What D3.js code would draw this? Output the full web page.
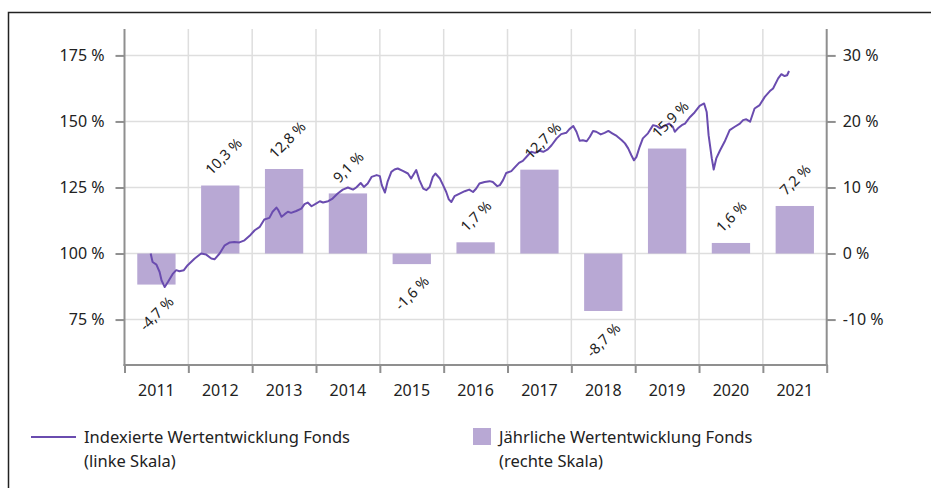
<!DOCTYPE html>
<html><head><meta charset="utf-8">
<script src="https://cdn.jsdelivr.net/npm/d3@7/dist/d3.min.js"></script>
<style>
html,body{margin:0;padding:0;background:#fff;}
svg{display:block;font-family:"Noto Sans",sans-serif;}
</style></head>
<body><svg id="chart" width="931" height="488"></svg>
<script>
// ---- data ----
const years = [2011,2012,2013,2014,2015,2016,2017,2018,2019,2020,2021];
const annualReturns = [-4.7,10.3,12.8,9.1,-1.6,1.7,12.7,-8.7,15.9,1.6,7.2];
const leftTicks = [75,100,125,150,175];
const rightTicks = [-10,0,10,20,30];
const indexDates = [2011.41,2011.44,2011.50,2011.55,2011.58,2011.63,2011.68,2011.76,2011.81,2011.86,2011.93,2011.99,
2012.10,2012.20,2012.28,2012.36,2012.41,2012.49,2012.57,2012.65,2012.72,2012.80,2012.88,2012.96,
2013.04,2013.12,2013.19,2013.27,2013.32,2013.38,2013.41,2013.46,2013.51,2013.56,2013.61,2013.69,2013.77,2013.82,2013.87,2013.93,
2014.00,2014.06,2014.11,2014.19,2014.26,2014.34,2014.42,2014.50,2014.58,2014.63,2014.70,2014.75,2014.81,2014.87,2014.95,
2015.00,2015.03,2015.08,2015.12,2015.18,2015.23,2015.28,2015.36,2015.44,2015.49,2015.57,2015.62,2015.68,2015.73,2015.78,2015.83,2015.87,2015.94,2015.99,
2016.04,2016.08,2016.12,2016.17,2016.25,2016.33,2016.40,2016.46,2016.51,2016.56,2016.64,2016.72,2016.77,2016.84,2016.88,2016.93,2016.98,
2017.06,2017.11,2017.18,2017.24,2017.32,2017.37,2017.43,2017.50,2017.56,2017.63,2017.69,2017.77,2017.84,2017.92,2017.97,
2018.03,2018.08,2018.13,2018.18,2018.24,2018.29,2018.34,2018.39,2018.46,2018.52,2018.58,2018.64,2018.71,2018.79,2018.84,2018.89,2018.94,2018.98,
2019.02,2019.07,2019.12,2019.20,2019.28,2019.33,2019.39,2019.46,2019.53,2019.59,2019.62,2019.67,2019.73,2019.78,2019.86,2019.93,
2020.01,2020.08,2020.12,2020.15,2020.20,2020.23,2020.27,2020.33,2020.40,2020.48,2020.56,2020.64,2020.69,2020.74,2020.80,2020.87,2020.95,
2021.03,2021.11,2021.16,2021.24,2021.29,2021.34,2021.38,2021.41];
const indexValues = [100.0,96.8,95.8,93.0,89.9,87.3,89.2,92.4,93.7,93.3,93.7,95.6,
98.1,100.0,99.6,98.1,97.8,100.0,103.1,104.2,104.4,104.2,105.0,106.7,
108.8,110.1,112.9,113.5,115.8,117.4,116.4,113.9,114.9,115.8,115.4,116.1,117.0,118.7,119.3,117.9,
118.9,119.8,119.3,119.8,120.8,122.7,124.2,125.0,124.2,125.0,126.7,125.2,126.5,129.0,129.7,
129.3,125.9,123.1,127.1,130.9,131.8,132.2,131.3,130.3,128.4,131.6,127.8,124.6,124.0,125.2,129.0,130.3,128.4,125.9,
123.3,120.5,119.5,121.7,122.7,123.6,124.2,123.3,124.6,126.5,127.1,127.4,127.1,125.5,125.9,127.8,130.5,
131.2,132.5,134.3,135.1,137.2,138.5,138.1,138.9,138.5,139.4,141.0,143.6,145.2,145.7,147.1,
148.3,146.1,142.7,142.9,142.5,144.2,146.4,146.1,145.1,145.7,146.4,145.5,144.5,142.9,141.7,139.8,137.2,135.3,
136.6,140.4,143.6,145.5,148.6,148.3,147.4,148.3,149.2,148.0,146.1,147.4,148.6,149.2,151.7,153.4,
155.9,156.8,153.6,144.8,136.0,131.8,136.0,139.1,142.3,146.7,148.0,149.2,150.5,150.8,149.9,154.9,156.2,
159.3,161.5,162.5,166.3,167.9,167.2,167.5,169.1];
const legendLineLabel = ["Indexierte Wertentwicklung Fonds","(linke Skala)"];
const legendBarLabel = ["Jährliche Wertentwicklung Fonds","(rechte Skala)"];

// ---- layout ----
const plotLeft = 124.5, plotRight = 826.7, plotTop = 29, plotBottom = 365;
const lineColor = "#6a4caf", barColor = "#b8a8d4", axisColor = "#8f8f8f", gridColor = "#dedede", textColor = "#222";

const svg = d3.select("#chart");
const de = d3.formatLocale({decimal:",",thousands:".",grouping:[3],currency:["","€"],minus:"-"});
const fmt1 = de.format(".1f");

const x = d3.scaleLinear().domain([2011,2022]).range([plotLeft, plotRight]);
const xb = d3.scaleBand().domain(years).range([plotLeft, plotRight]).paddingInner(0.4).paddingOuter(0.2);
const yL = d3.scaleLinear().domain([57.8,185]).range([plotBottom, plotTop]);
const yR = d3.scaleLinear().domain([(57.8-100)/2.5,(185-100)/2.5]).range([plotBottom, plotTop]);

// border
svg.append("rect").attr("x",8.5).attr("y",12.5).attr("width",960).attr("height",520)
  .attr("fill","none").attr("stroke","#222").attr("stroke-width",1.5);

// grid
const g = svg.append("g");
g.selectAll(".hg").data(leftTicks).join("line")
  .attr("x1",plotLeft).attr("x2",plotRight).attr("y1",d=>yL(d)).attr("y2",d=>yL(d))
  .attr("stroke",gridColor).attr("stroke-width",1.5);
const boundaries = d3.range(2012,2022);
g.selectAll(".vg").data(boundaries).join("line")
  .attr("x1",d=>x(d)).attr("x2",d=>x(d)).attr("y1",plotTop).attr("y2",plotBottom)
  .attr("stroke",gridColor).attr("stroke-width",1.5);

// bars
svg.append("g").selectAll("rect").data(years).join("rect")
  .attr("x",d=>xb(d)).attr("width",xb.bandwidth())
  .attr("y",(d,i)=>yR(Math.max(0,annualReturns[i])))
  .attr("height",(d,i)=>Math.abs(yR(annualReturns[i])-yR(0)))
  .attr("fill",barColor);

// line
const pts = indexDates.map((d,i)=>[d,indexValues[i]]);
svg.append("path").datum(pts)
  .attr("d",d3.line().x(d=>x(d[0])).y(d=>yL(d[1])))
  .attr("fill","none").attr("stroke",lineColor).attr("stroke-width",2).attr("stroke-linejoin","round");

// bar labels
svg.append("g").selectAll("text").data(years).join("text")
  .each(function(d,i){
    const v = annualReturns[i];
    const cx = xb(d)+xb.bandwidth()/2;
    const t = d3.select(this);
    let px, py;
    if (v>=0){ px = cx-13; py = yR(v)-14; t.attr("text-anchor","start"); }
    else { px = cx+14; py = yR(v)+14; t.attr("text-anchor","end"); }
    t.attr("transform",`translate(${px},${py}) rotate(-45)`);
  })
  .attr("dominant-baseline","central")
  .attr("font-size",14.5).attr("fill",textColor)
  .text((d,i)=>fmt1(annualReturns[i])+" %");

// axes
const axG = svg.append("g").attr("stroke",axisColor).attr("stroke-width",2);
axG.append("line").attr("x1",plotLeft).attr("x2",plotLeft).attr("y1",plotTop).attr("y2",plotBottom+1);
axG.append("line").attr("x1",plotRight).attr("x2",plotRight).attr("y1",plotTop).attr("y2",plotBottom+1);
axG.append("line").attr("x1",plotLeft-1).attr("x2",plotRight+1).attr("y1",plotBottom).attr("y2",plotBottom);

const leftAxis = svg.append("g").attr("transform",`translate(${plotLeft},0)`)
  .call(d3.axisLeft(yL).tickValues(leftTicks).tickSize(9).tickPadding(11).tickFormat(d=>d+" %"));
const rightAxis = svg.append("g").attr("transform",`translate(${plotRight},0)`)
  .call(d3.axisRight(yR).tickValues(rightTicks).tickSize(9).tickPadding(7).tickFormat(d=>d+" %"));
const bottomAxis = svg.append("g").attr("transform",`translate(0,${plotBottom})`)
  .call(d3.axisBottom(x).tickValues(d3.range(2011,2023)).tickSize(8).tickFormat(""));
svg.append("g").selectAll("text").data(years).join("text")
  .attr("x",d=>xb(d)+xb.bandwidth()/2).attr("y",plotBottom+31)
  .attr("text-anchor","middle").attr("font-size",16).attr("fill",textColor).text(d=>d);

[leftAxis,rightAxis,bottomAxis].forEach(a=>{
  a.select(".domain").remove();
  a.selectAll(".tick line").attr("stroke",axisColor).attr("stroke-width",2);
  a.selectAll(".tick text").attr("font-size",16).attr("fill",textColor).attr("font-family","Noto Sans");
});

// legend
const lg = svg.append("g").attr("font-size",16.5).attr("fill",textColor);
lg.append("line").attr("x1",31).attr("x2",76).attr("y1",437).attr("y2",437).attr("stroke",lineColor).attr("stroke-width",2);
lg.append("text").attr("x",84).attr("y",443).text(legendLineLabel[0]);
lg.append("text").attr("x",84).attr("y",467).text(legendLineLabel[1]);
lg.append("rect").attr("x",473).attr("y",428).attr("width",18).attr("height",17).attr("fill",barColor);
lg.append("text").attr("x",499).attr("y",443).text(legendBarLabel[0]);
lg.append("text").attr("x",499).attr("y",467).text(legendBarLabel[1]);
</script></body></html>
